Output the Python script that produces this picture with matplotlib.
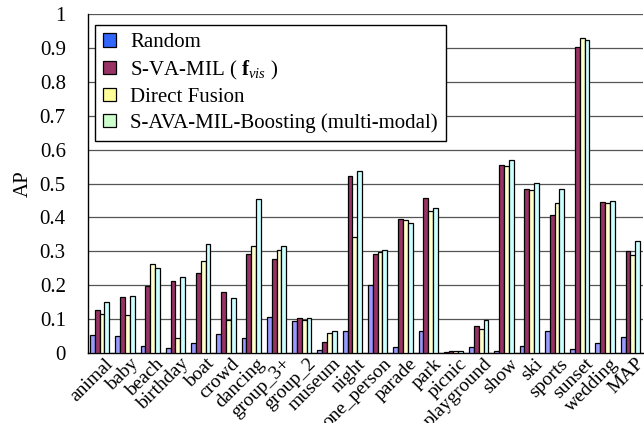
import numpy as np
import matplotlib
matplotlib.use("Agg")
import matplotlib.pyplot as plt
from matplotlib.patches import Patch
from matplotlib.transforms import ScaledTranslation

plt.rcParams['font.family'] = ['Liberation Serif', 'DejaVu Serif']
plt.rcParams['mathtext.fontset'] = 'custom'
plt.rcParams['mathtext.rm'] = 'Liberation Serif'
plt.rcParams['mathtext.it'] = 'Liberation Serif:italic'
plt.rcParams['mathtext.bf'] = 'Liberation Serif:bold'

categories = ['animal', 'baby', 'beach', 'birthday', 'boat', 'crowd', 'dancing',
              'group_3+', 'group_2', 'museum', 'night', 'one_person', 'parade',
              'park', 'picnic', 'playground', 'show', 'ski', 'sports', 'sunset',
              'wedding', 'MAP']

random_ap = [0.052, 0.048, 0.021, 0.013, 0.028, 0.056, 0.044, 0.106, 0.094, 0.008,
             0.063, 0.200, 0.016, 0.063, 0.003, 0.016, 0.004, 0.020, 0.063, 0.012,
             0.028, 0.047]
svamil_ap = [0.126, 0.164, 0.196, 0.211, 0.235, 0.179, 0.291, 0.278, 0.102, 0.031,
             0.521, 0.293, 0.396, 0.458, 0.004, 0.079, 0.556, 0.485, 0.407, 0.905,
             0.446, 0.302]
fusion_ap = [0.114, 0.110, 0.263, 0.043, 0.271, 0.098, 0.316, 0.303, 0.098, 0.059,
             0.343, 0.297, 0.391, 0.418, 0.004, 0.069, 0.551, 0.481, 0.442, 0.931,
             0.442, 0.289]
boost_ap = [0.149, 0.169, 0.251, 0.224, 0.322, 0.161, 0.454, 0.316, 0.102, 0.063,
            0.537, 0.305, 0.383, 0.427, 0.004, 0.096, 0.571, 0.501, 0.485, 0.924,
            0.449, 0.329]

series = [random_ap, svamil_ap, fusion_ap, boost_ap]
bar_colors = ['#9999ff', '#993366', '#ffffcc', '#ccffff']
legend_colors = ['#3366ff', '#993366', '#ffff99', '#ccffcc']
labels = ['Random', r'S-VA-MIL ( $\mathbf{f}_{vis}$ )', 'Direct Fusion',
          'S-AVA-MIL-Boosting (multi-modal)']

fig = plt.figure(figsize=(6.44, 4.23), dpi=100)
ax = fig.add_axes([88 / 644, 1 - 352.7 / 423, 555 / 644, 338.2 / 423])

x = np.arange(len(categories))
w = 0.19
for i, vals in enumerate(series):
    ax.bar(x + (i - 1.5) * w, vals, width=w, color=bar_colors[i],
           edgecolor='black', linewidth=0.9, zorder=3)

ax.set_xlim(-0.46, 21.5)
ax.set_ylim(0, 1)
ax.set_yticks(np.arange(0, 1.01, 0.1))
ax.set_yticklabels(['0', '0.1', '0.2', '0.3', '0.4', '0.5', '0.6', '0.7', '0.8', '0.9', '1'])
ax.yaxis.grid(True, color='#555555', linewidth=0.9, zorder=0)
ax.set_axisbelow(True)
ax.set_xticks(x)
ax.set_xticklabels(categories, rotation=45, ha='right', rotation_mode='anchor')
ax.tick_params(axis='both', length=0, labelsize=15)
ax.tick_params(axis='y', pad=16)
ax.tick_params(axis='x', pad=4, labelsize=14)
ax.set_ylabel('AP', fontsize=15, labelpad=5)

shift = ScaledTranslation(5 / 100, 3 / 100, fig.dpi_scale_trans)
for lab in ax.get_xticklabels():
    lab.set_transform(lab.get_transform() + shift)

ax.spines['top'].set_visible(False)
ax.spines['right'].set_visible(False)
for s in ['left', 'bottom']:
    ax.spines[s].set_color('black')
    ax.spines[s].set_linewidth(1.0)

handles = [Patch(facecolor=c, edgecolor='black', linewidth=0.9) for c in legend_colors]
leg = ax.legend(handles, labels, loc='upper left', bbox_to_anchor=(0.0126, 0.969),
                borderaxespad=0, fontsize=15, frameon=True, fancybox=False,
                framealpha=1, edgecolor='black', handlelength=0.6, handleheight=0.6,
                handletextpad=0.7, labelspacing=0.3, borderpad=0.4)
leg.get_frame().set_linewidth(1.0)

fig.savefig('out.png', dpi=100)
